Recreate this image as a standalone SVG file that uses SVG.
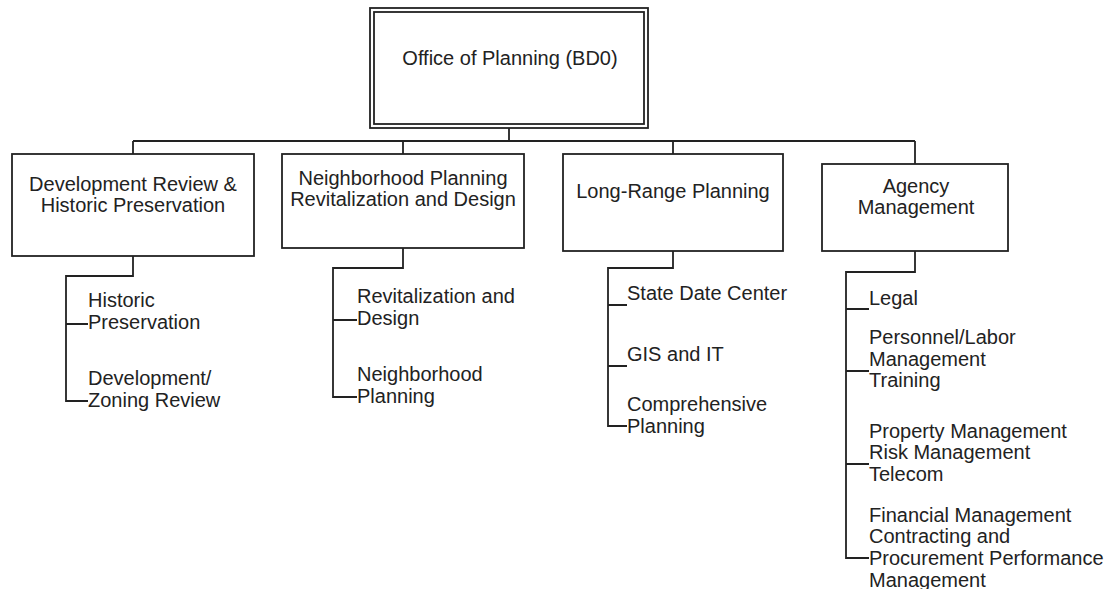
<svg xmlns="http://www.w3.org/2000/svg" width="1113" height="589" viewBox="0 0 1113 589">
<style>
.box{fill:#fff;stroke:#222;stroke-width:1.8}
.ln{fill:none;stroke:#222;stroke-width:1.8}
text{font-family:"Liberation Sans",Arial,sans-serif;font-size:20px;fill:#222}
.c{text-anchor:middle}
</style>
<rect width="1113" height="589" fill="#fff"/>
<g id="connectors">
<path class="ln" d="M509 128V141M133 141H915M133 141V154M403 141V154M673 141V154M915 141V164"/>
<path class="ln" d="M133 256V276H66V401H88M66 324H88"/>
<path class="ln" d="M403 248V268H333V397H357M333 320H357"/>
<path class="ln" d="M673 251V268H608V426H627M608 305H627M608 366H627"/>
<path class="ln" d="M915 251V272H846V558H869M846 309H869M846 371H869M846 464H869"/>
</g>
<g id="office">
<rect class="box" x="370" y="8" width="278" height="120"/>
<rect class="box" x="374" y="12" width="270" height="112"/>
<text class="c" x="510" y="65">Office of Planning (BD0)</text>
</g>
<g id="devreview">
<rect class="box" x="12" y="154" width="242" height="102"/>
<text class="c" x="133" y="191">Development Review &amp;</text>
<text class="c" x="133" y="212">Historic Preservation</text>
</g>
<g id="neighborhood">
<rect class="box" x="282" y="154" width="242" height="94"/>
<text class="c" x="403" y="185">Neighborhood Planning</text>
<text class="c" x="403" y="206">Revitalization and Design</text>
</g>
<g id="longrange">
<rect class="box" x="563" y="154" width="220" height="97"/>
<text class="c" x="673" y="198">Long-Range Planning</text>
</g>
<g id="agency">
<rect class="box" x="822" y="164" width="186" height="87"/>
<text class="c" x="916" y="193">Agency</text>
<text class="c" x="916" y="214">Management</text>
</g>
<g id="dr-children">
<text x="88" y="307">Historic</text>
<text x="88" y="329">Preservation</text>
<text x="88" y="385">Development/</text>
<text x="88" y="407">Zoning Review</text>
</g>
<g id="np-children">
<text x="357" y="303">Revitalization and</text>
<text x="357" y="325">Design</text>
<text x="357" y="381">Neighborhood</text>
<text x="357" y="403">Planning</text>
</g>
<g id="lr-children">
<text x="627" y="300">State Date Center</text>
<text x="627" y="361">GIS and IT</text>
<text x="627" y="411">Comprehensive</text>
<text x="627" y="433">Planning</text>
</g>
<g id="am-children">
<text x="869" y="305">Legal</text>
<text x="869" y="344">Personnel/Labor</text>
<text x="869" y="366">Management</text>
<text x="869" y="387">Training</text>
<text x="869" y="438">Property Management</text>
<text x="869" y="459">Risk Management</text>
<text x="869" y="481">Telecom</text>
<text x="869" y="522">Financial Management</text>
<text x="869" y="543">Contracting and</text>
<text x="869" y="565">Procurement Performance</text>
<text x="869" y="587">Management</text>
</g>
</svg>
